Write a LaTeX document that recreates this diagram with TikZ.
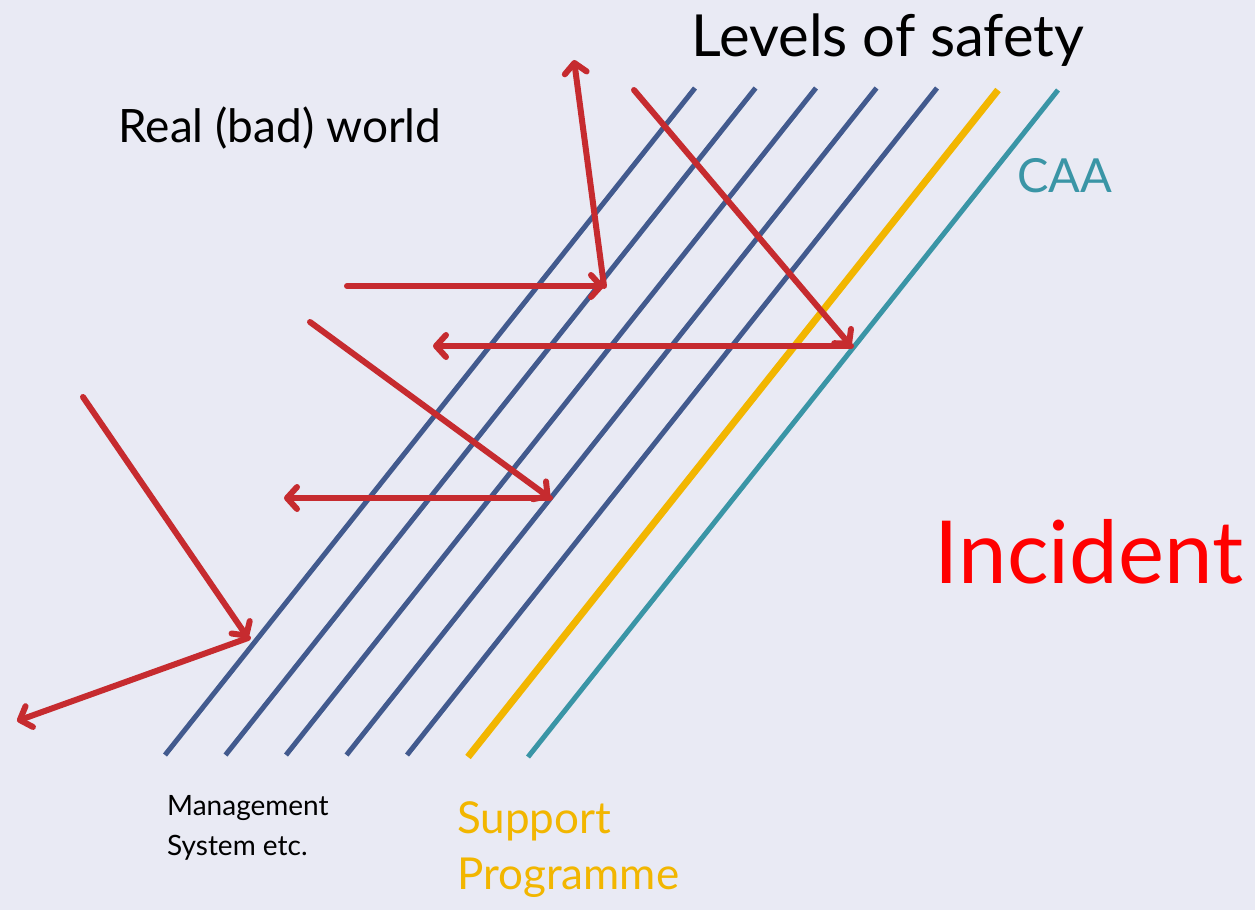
\documentclass[tikz,border=0pt]{standalone}
\usepackage{fontspec}
\setmainfont{Lato}
\usetikzlibrary{arrows.meta}
\definecolor{bgcol}{HTML}{E9EAF4}
\definecolor{levelblue}{HTML}{425A8E}
\definecolor{supportyellow}{HTML}{F2B600}
\definecolor{caateal}{HTML}{3A95A6}
\definecolor{hazardred}{HTML}{C62B2F}
\begin{document}
\begin{tikzpicture}[x=1pt, y=-1pt,
    level/.style={levelblue, line width=5pt},
    hazard/.style={hazardred, line width=6pt, line cap=round, -{Straight Barb[length=10pt,width=22pt,line width=6pt,round]}},
    every node/.style={inner sep=0pt}]
    \fill[bgcol] (0,0) rectangle (1255,910);
    \useasboundingbox (0,0) rectangle (1255,910);
    % levels of safety
    \foreach \i in {0,...,4}
        \draw[level] (165+60.5*\i,755) -- (695+60.5*\i,88);
    \draw[supportyellow, line width=7pt] (468,757) -- (998,90);
    \draw[caateal, line width=5pt] (528,757) -- (1058,90);
    % hazard paths
    \coordinate (h1start) at (83,397);
    \coordinate (h1hit) at (248,638);
    \coordinate (h1out) at (17,721);
    \coordinate (h2start) at (310,322);
    \coordinate (h2hit) at (550,498);
    \coordinate (h2out) at (284,498);
    \coordinate (h3start) at (347,286);
    \coordinate (h3hit) at (604,286);
    \coordinate (h3out) at (574,60);
    \coordinate (h4start) at (634,90);
    \coordinate (h4hit) at (851,346);
    \coordinate (h4out) at (433,346);
    \draw[hazard] (h1start) -- (h1hit);
    \draw[hazard] (h1hit) -- (h1out);
    \draw[hazard] (h2start) -- (h2hit);
    \draw[hazard] (h2hit) -- (h2out);
    \draw[hazard] (h3start) -- (h3hit);
    \draw[hazard] (h3hit) -- (h3out);
    \draw[hazard] (h4start) -- (h4hit);
    \draw[hazard] (h4hit) -- (h4out);
    % labels
    \node (levels) at (888,40) [font=\fontsize{58}{64}\selectfont] {Levels of safety};
    \node (world) at (280,128) [font=\fontsize{46}{52}\selectfont] {Real (bad) world};
    \node (caa) at (1065,176) [text=caateal, font=\fontsize{47}{52}\selectfont] {CAA};
    \node (incident) at (1089,552) [text=red, font=\fontsize{87}{96}\selectfont] {Incident};
    \node (mgmt) at (167,828) [anchor=west, align=left, font=\fontsize{28}{40}\selectfont] {Management\\System etc.};
    \node (support) at (457,850) [anchor=west, align=left, text=supportyellow, font=\fontsize{44}{56}\selectfont] {Support\\Programme};
\end{tikzpicture}
\end{document}
